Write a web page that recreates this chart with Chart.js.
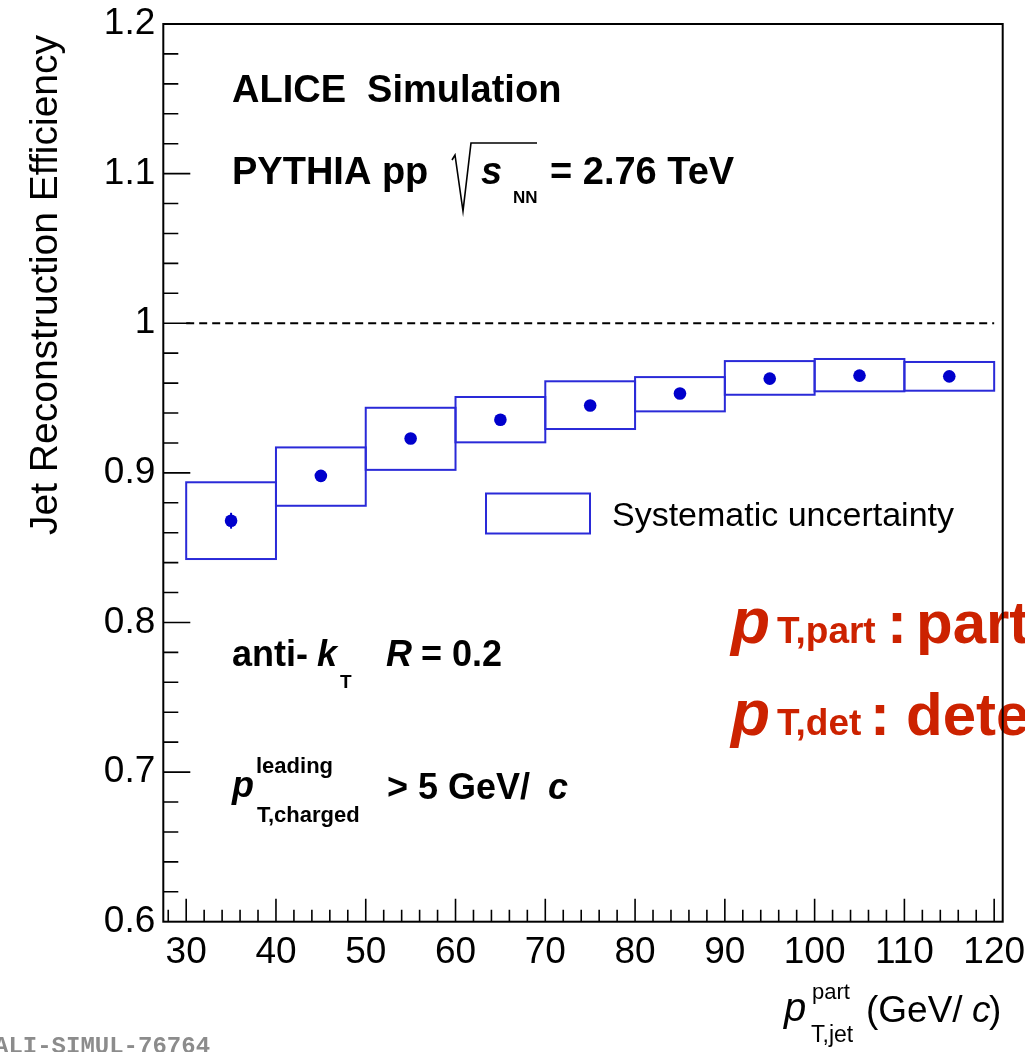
<!DOCTYPE html>
<html>
<head>
<meta charset="utf-8">
<script src="https://cdn.jsdelivr.net/npm/chart.js@4.4.1/dist/chart.umd.min.js"></script>
<style>
  html, body { margin: 0; padding: 0; background: #ffffff; overflow: hidden; }
  #wrap { width: 1025px; height: 1052px; position: relative; }
</style>
</head>
<body>
<div id="wrap"><canvas id="chart"></canvas></div>
<script>
// ---- data ----
const binLowEdges  = [30, 40, 50, 60, 70, 80, 90, 100, 110];
const binHighEdges = [40, 50, 60, 70, 80, 90, 100, 110, 120];
const binCenters   = [35, 45, 55, 65, 75, 85, 95, 105, 115];
const efficiency   = [0.868, 0.898, 0.923, 0.9355, 0.945, 0.953, 0.963, 0.965, 0.9645];
const statError    = [0.0053, 0.003, 0.0025, 0.002, 0.002, 0.0018, 0.0015, 0.0015, 0.0015];
const sysLow       = [0.8424, 0.878, 0.902, 0.9204, 0.9293, 0.9411, 0.9522, 0.9545, 0.9549];
const sysHigh      = [0.8937, 0.917, 0.9435, 0.9507, 0.9612, 0.964, 0.9747, 0.9761, 0.9741];
const xTickValues  = [30, 40, 50, 60, 70, 80, 90, 100, 110, 120];
const yTickValues  = [0.6, 0.7, 0.8, 0.9, 1.0, 1.1, 1.2];
const unityLine    = [{ x: 30, y: 1 }, { x: 120, y: 1 }];
const legendLabel  = 'Systematic uncertainty';
const yAxisTitle   = 'Jet Reconstruction Efficiency';

const SANS = "'Liberation Sans', Arial, Helvetica, sans-serif";
const POINT_BLUE = '#0000cc';
const BOX_BLUE = '#2a2ad8';
const RED = '#cc2200';

// draw a sequence of text runs (for sub/superscripts and mixed styles)
function drawRuns(ctx, runs, color) {
  ctx.save();
  ctx.fillStyle = color || '#000';
  ctx.textBaseline = 'alphabetic';
  ctx.textAlign = 'left';
  for (const r of runs) {
    ctx.font = (r.style || '') + ' ' + r.size + 'px ' + (r.family || SANS);
    ctx.fillText(r.t, r.x, r.y);
  }
  ctx.restore();
}

// systematic boxes + statistical error bars, drawn via the scales
const uncertaintyPlugin = {
  id: 'uncertainty',
  beforeDatasetsDraw(chart) {
    const { ctx, scales: { x, y } } = chart;
    ctx.save();
    ctx.strokeStyle = BOX_BLUE;
    ctx.lineWidth = 2;
    for (let i = 0; i < binCenters.length; i++) {
      const x0 = x.getPixelForValue(binLowEdges[i]);
      const x1 = x.getPixelForValue(binHighEdges[i]);
      const y0 = y.getPixelForValue(sysHigh[i]);
      const y1 = y.getPixelForValue(sysLow[i]);
      ctx.strokeRect(x0, y0, x1 - x0, y1 - y0);
    }
    ctx.strokeStyle = POINT_BLUE;
    ctx.lineWidth = 2;
    for (let i = 0; i < binCenters.length; i++) {
      const px = x.getPixelForValue(binCenters[i]);
      ctx.beginPath();
      ctx.moveTo(px, y.getPixelForValue(efficiency[i] - statError[i]));
      ctx.lineTo(px, y.getPixelForValue(efficiency[i] + statError[i]));
      ctx.stroke();
    }
    ctx.restore();
  }
};

// frame, inward ticks, annotations
const framePlugin = {
  id: 'frame',
  afterDraw(chart) {
    const { ctx, chartArea: a, scales: { x, y } } = chart;

    // annotation texts
    drawRuns(ctx, [
      { t: 'ALICE  Simulation', x: 232, y: 102, size: 38, style: 'bold' },
      { t: 'PYTHIA pp', x: 232, y: 184, size: 38, style: 'bold' },
      { t: 's', x: 481, y: 184, size: 38, style: 'italic bold' },
      { t: 'NN', x: 513, y: 203, size: 17, style: 'bold' },
      { t: '= 2.76 TeV', x: 550, y: 184, size: 38, style: 'bold' },

      { t: 'anti-', x: 232, y: 666, size: 36, style: 'bold' },
      { t: 'k', x: 317, y: 666, size: 36, style: 'italic bold' },
      { t: 'T', x: 340, y: 688, size: 19, style: 'bold' },
      { t: 'R', x: 386, y: 666, size: 36, style: 'italic bold' },
      { t: '= 0.2', x: 421, y: 666, size: 36, style: 'bold' },

      { t: 'p', x: 232, y: 797, size: 36, style: 'italic bold' },
      { t: 'leading', x: 256, y: 773, size: 22, style: 'bold' },
      { t: 'T,charged', x: 257, y: 822, size: 22, style: 'bold' },
      { t: '> 5 GeV/', x: 387, y: 799, size: 36, style: 'bold' },
      { t: 'c', x: 548, y: 799, size: 36, style: 'italic bold' }
    ]);

    // square-root sign
    ctx.save();
    ctx.strokeStyle = '#000';
    ctx.lineWidth = 1.6;
    ctx.beginPath();
    ctx.moveTo(452, 160);
    ctx.lineTo(455, 155);
    ctx.lineTo(463, 211);
    ctx.lineTo(471, 143);
    ctx.lineTo(537, 143);
    ctx.stroke();
    ctx.restore();

    // legend entry
    ctx.save();
    ctx.strokeStyle = BOX_BLUE;
    ctx.lineWidth = 2;
    ctx.strokeRect(486, 493.5, 104, 40);
    ctx.restore();
    drawRuns(ctx, [{ t: legendLabel, x: 612, y: 526, size: 34, style: '' }]);

    // red labels
    drawRuns(ctx, [
      { t: 'p', x: 731, y: 643, size: 64, style: 'italic bold' },
      { t: 'T,part', x: 777, y: 643, size: 37, style: 'bold' },
      { t: ':', x: 887, y: 643, size: 60, style: 'bold' },
      { t: 'particle level', x: 916, y: 643, size: 60, style: 'bold' },
      { t: 'p', x: 731, y: 735, size: 64, style: 'italic bold' },
      { t: 'T,det', x: 777, y: 735, size: 37, style: 'bold' },
      { t: ':', x: 870, y: 735, size: 60, style: 'bold' },
      { t: 'detector level', x: 906, y: 735, size: 60, style: 'bold' }
    ], RED);

    // axis titles
    drawRuns(ctx, [
      { t: 'p', x: 784, y: 1021, size: 40, style: 'italic' },
      { t: 'part', x: 812, y: 999, size: 22, style: '' },
      { t: 'T,jet', x: 811, y: 1042, size: 23, style: '' },
      { t: '(GeV/', x: 866, y: 1022, size: 37, style: '' },
      { t: 'c', x: 972, y: 1022, size: 37, style: 'italic' },
      { t: ')', x: 989, y: 1022, size: 37, style: '' }
    ]);
    ctx.save();
    ctx.translate(57, 535);
    ctx.rotate(-Math.PI / 2);
    ctx.font = '39px ' + SANS;
    ctx.fillStyle = '#000';
    ctx.textAlign = 'left';
    ctx.textBaseline = 'alphabetic';
    ctx.fillText(yAxisTitle, 0, 0);
    ctx.restore();

    drawRuns(ctx, [{ t: 'ALI-SIMUL-76764', x: -6, y: 1053, size: 24, style: 'bold',
                     family: "'Liberation Mono', 'DejaVu Sans Mono', monospace" }], '#8c8c8c');

    // frame and ticks
    ctx.save();
    ctx.strokeStyle = '#000';
    ctx.lineWidth = 2;
    ctx.strokeRect(a.left, a.top, a.right - a.left, a.bottom - a.top);
    ctx.lineWidth = 1.6;
    ctx.beginPath();
    for (let v = 28; v <= x.max + 1e-9; v += 2) {
      const px = x.getPixelForValue(v);
      const major = Math.abs(v % 10) < 1e-9;
      ctx.moveTo(px, a.bottom);
      ctx.lineTo(px, a.bottom - (major ? 23 : 12));
    }
    for (let i = 1; i < 30; i++) {
      const v = y.min + i * 0.02;
      const py = y.getPixelForValue(v);
      const major = i % 5 === 0;
      ctx.moveTo(a.left, py);
      ctx.lineTo(a.left + (major ? 27 : 15), py);
    }
    ctx.stroke();
    ctx.restore();
  }
};

new Chart(document.getElementById('chart'), {
  type: 'scatter',
  data: {
    datasets: [
      {
        label: 'Efficiency',
        data: binCenters.map((c, i) => ({ x: c, y: efficiency[i] })),
        pointRadius: 6.3,
        pointHoverRadius: 6.3,
        backgroundColor: POINT_BLUE,
        borderWidth: 0,
        showLine: false
      },
      {
        label: 'Unity',
        data: unityLine,
        showLine: true,
        pointRadius: 0,
        borderColor: '#000',
        borderWidth: 2,
        borderDash: [8, 5]
      }
    ]
  },
  options: {
    responsive: true,
    maintainAspectRatio: false,
    animation: false,
    events: [],
    layout: { padding: { top: 24, right: 22.3, left: 0, bottom: 0 } },
    plugins: { legend: { display: false }, tooltip: { enabled: false } },
    scales: {
      x: {
        type: 'linear',
        min: 27.45,
        max: 120.95,
        grid: { display: false, drawTicks: false, tickLength: 0 },
        border: { display: false },
        afterBuildTicks: s => { s.ticks = xTickValues.map(v => ({ value: v })); },
        afterFit: s => {
          s.height = 130.3;
          s.paddingLeft = 0; s.paddingRight = 0;
        },
        ticks: {
          autoSkip: false,
          maxRotation: 0,
          padding: 9,
          color: '#000',
          font: { family: SANS, size: 37 }
        }
      },
      y: {
        type: 'linear',
        min: 0.6,
        max: 1.2,
        grid: { display: false, drawTicks: false, tickLength: 0 },
        border: { display: false },
        afterBuildTicks: s => { s.ticks = yTickValues.map(v => ({ value: v })); },
        afterFit: s => {
          s.width = 163.3;
          s.paddingTop = 0; s.paddingBottom = 0;
        },
        ticks: {
          padding: 8,
          color: '#000',
          font: { family: SANS, size: 37 },
          callback: v => String(Number(Number(v).toFixed(1)))
        }
      }
    }
  },
  plugins: [uncertaintyPlugin, framePlugin]
});
</script>
</body>
</html>
